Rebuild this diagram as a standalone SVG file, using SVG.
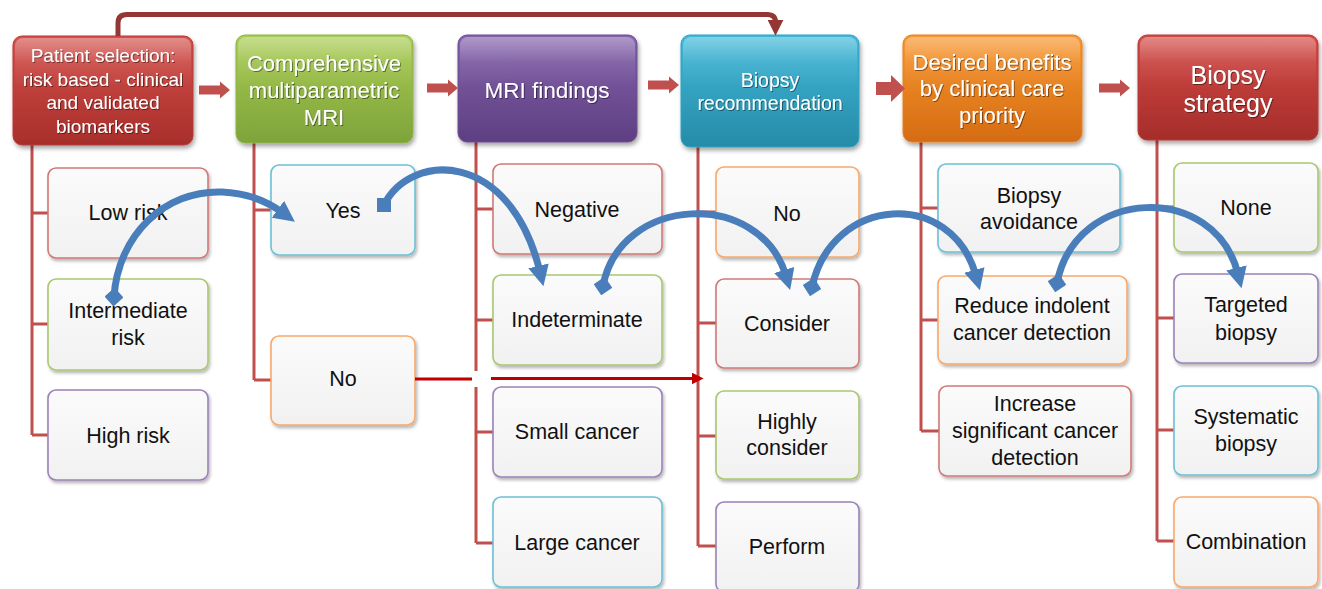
<svg xmlns="http://www.w3.org/2000/svg" width="1322" height="589" viewBox="0 0 1322 589">
<defs>
<style>
.hd{font-family:"Liberation Sans",Arial,sans-serif;fill:#fff;text-anchor:middle;filter:url(#ts)}
.ch{font-family:"Liberation Sans",Arial,sans-serif;fill:#111;text-anchor:middle;font-size:21.5px}
.cb{fill:url(#gc);stroke-width:1.6;filter:url(#sh)}
.hb{filter:url(#sh2)}
.gl{fill:url(#gloss)}
.sp{fill:none;stroke:#c0504d;stroke-width:3}
.blue{fill:none;stroke:#4a7ebb;stroke-width:7}
.har{fill:#c0504d}
</style>
<linearGradient id="gc" x1="0" y1="0" x2="0" y2="1"><stop offset="0" stop-color="#fbfbfb"/><stop offset="1" stop-color="#f1f1f1"/></linearGradient>
<linearGradient id="gloss" x1="0" y1="0" x2="0" y2="1"><stop offset="0" stop-color="#fff" stop-opacity="0.35"/><stop offset="0.5" stop-color="#fff" stop-opacity="0.08"/><stop offset="1" stop-color="#fff" stop-opacity="0"/></linearGradient>
<linearGradient id="g1" x1="0" y1="0" x2="0" y2="1"><stop offset="0" stop-color="#d4504b"/><stop offset="1" stop-color="#a82e2b"/></linearGradient>
<linearGradient id="g2" x1="0" y1="0" x2="0" y2="1"><stop offset="0" stop-color="#a9cc52"/><stop offset="1" stop-color="#7ea33a"/></linearGradient>
<linearGradient id="g3" x1="0" y1="0" x2="0" y2="1"><stop offset="0" stop-color="#8462ab"/><stop offset="1" stop-color="#5e3f82"/></linearGradient>
<linearGradient id="g4" x1="0" y1="0" x2="0" y2="1"><stop offset="0" stop-color="#3fb8d8"/><stop offset="1" stop-color="#268ba8"/></linearGradient>
<linearGradient id="g5" x1="0" y1="0" x2="0" y2="1"><stop offset="0" stop-color="#f8962e"/><stop offset="1" stop-color="#d56c13"/></linearGradient>
<linearGradient id="g6" x1="0" y1="0" x2="0" y2="1"><stop offset="0" stop-color="#d44a46"/><stop offset="1" stop-color="#a52d2a"/></linearGradient>
<filter id="sh" x="-10%" y="-10%" width="125%" height="130%"><feDropShadow dx="1.5" dy="2.5" stdDeviation="1.8" flood-color="#000" flood-opacity="0.28"/></filter>
<filter id="sh2" x="-10%" y="-10%" width="125%" height="130%"><feDropShadow dx="1.5" dy="3" stdDeviation="2.2" flood-color="#000" flood-opacity="0.35"/></filter>
<filter id="ts" x="-5%" y="-20%" width="110%" height="140%"><feDropShadow dx="1" dy="1" stdDeviation="0.6" flood-color="#000" flood-opacity="0.45"/></filter>
<marker id="ah" viewBox="0 0 10 10" markerWidth="3" markerHeight="3" refX="3" refY="5" orient="auto"><path d="M0,0 L10,5 L0,10 z" fill="#4a7ebb"/></marker>
<marker id="dm" viewBox="0 0 10 10" markerWidth="2.7" markerHeight="2.7" refX="5" refY="5" orient="auto"><path d="M5,0 L10,5 L5,10 L0,5 z" fill="#4a7ebb"/></marker>
<marker id="sq" viewBox="0 0 10 10" markerWidth="2.1" markerHeight="2.1" refX="5" refY="5" orient="0"><path d="M0,0 H10 V10 H0 z" fill="#4a7ebb"/></marker>
<marker id="rah" viewBox="0 0 10 10" markerWidth="4" markerHeight="4" refX="2" refY="5" orient="auto"><path d="M0,0 L10,5 L0,10 z" fill="#c00000"/></marker>
<marker id="dah" viewBox="0 0 10 10" markerWidth="3.2" markerHeight="3.2" refX="2" refY="5" orient="auto"><path d="M0,0 L10,5 L0,10 z" fill="#943634"/></marker>
<path id="ha" d="M0,-4.5 H21 V-8.5 L31,0 L21,8.5 V4.5 H0 Z"/>
</defs>
<rect width="1322" height="589" fill="#fff"/>

<!-- spines behind nodes -->
<g id="spines">
<path class="sp" d="M32,145 V435 M32,213 H48 M32,324 H48 M32,435 H48"/>
<path class="sp" d="M254,143 V380 M254,210 H271 M254,380 H271"/>
<path class="sp" d="M476,142 V543 M476,209 H493 M476,320 H493 M476,432 H493 M476,543 H493"/>
<path class="sp" d="M698,147 V546 M698,212 H716 M698,323 H716 M698,436 H716 M698,546 H716"/>
<path class="sp" d="M921,142 V431 M921,208 H938 M921,320 H938 M921,431 H939"/>
<path class="sp" d="M1157,140 V541 M1157,207 H1174 M1157,318 H1174 M1157,430 H1174 M1157,541 H1174"/>
</g>

<!-- header nodes -->
<g id="h1" class="hb"><rect x="13" y="36" width="180" height="109" rx="9" fill="url(#g1)" stroke="#b83a36"/><rect x="15" y="38" width="176" height="50" rx="8" class="gl"/>
<text class="hd" font-size="19" x="103"><tspan x="103" y="62">Patient selection:</tspan><tspan x="103" y="85.5">risk based - clinical</tspan><tspan x="103" y="109">and validated</tspan><tspan x="103" y="132.5">biomarkers</tspan></text></g>
<g id="h2" class="hb"><rect x="236" y="35" width="177" height="108" rx="9" fill="url(#g2)" stroke="#8db445"/><rect x="238" y="37" width="173" height="50" rx="8" class="gl"/>
<text class="hd" font-size="22" x="324"><tspan x="324" y="71">Comprehensive</tspan><tspan x="324" y="98">multiparametric</tspan><tspan x="324" y="125">MRI</tspan></text></g>
<g id="h3" class="hb"><rect x="458" y="35" width="179" height="107" rx="9" fill="url(#g3)" stroke="#6e4d93"/><rect x="460" y="37" width="175" height="50" rx="8" class="gl"/>
<text class="hd" font-size="22.5" x="547" y="98">MRI findings</text></g>
<g id="h4" class="hb"><rect x="681" y="35" width="178" height="112" rx="9" fill="url(#g4)" stroke="#2ea3c2"/><rect x="683" y="37" width="174" height="50" rx="8" class="gl"/>
<text class="hd" font-size="19.5" x="770"><tspan x="770" y="87">Biopsy</tspan><tspan x="770" y="110">recommendation</tspan></text></g>
<g id="h5" class="hb"><rect x="903" y="35" width="179" height="107" rx="9" fill="url(#g5)" stroke="#e58020"/><rect x="905" y="37" width="175" height="50" rx="8" class="gl"/>
<text class="hd" font-size="22" x="992"><tspan x="992" y="70">Desired benefits</tspan><tspan x="992" y="96">by clinical care</tspan><tspan x="992" y="123">priority</tspan></text></g>
<g id="h6" class="hb"><rect x="1138" y="35" width="180" height="105" rx="9" fill="url(#g6)" stroke="#b83a36"/><rect x="1140" y="37" width="176" height="50" rx="8" class="gl"/>
<text class="hd" font-size="25" x="1228"><tspan x="1228" y="84">Biopsy</tspan><tspan x="1228" y="112">strategy</tspan></text></g>

<!-- child nodes -->
<g id="c1a"><rect class="cb" x="48" y="168" width="160" height="90" rx="8" stroke="#d07a77"/><text class="ch" x="128" y="220">Low risk</text></g>
<g id="c1b"><rect class="cb" x="48" y="279" width="160" height="91" rx="8" stroke="#a9c870"/><text class="ch" x="128"><tspan x="128" y="317.5">Intermediate</tspan><tspan x="128" y="344.5">risk</tspan></text></g>
<g id="c1c"><rect class="cb" x="48" y="390" width="160" height="90" rx="8" stroke="#9a82b8"/><text class="ch" x="128" y="442.5">High risk</text></g>

<g id="c2a"><rect class="cb" x="271" y="165" width="144" height="90" rx="8" stroke="#6cc0d6"/><text class="ch" x="343" y="217.5">Yes</text></g>
<g id="c2b"><rect class="cb" x="271" y="336" width="144" height="89" rx="8" stroke="#f9a86a"/><text class="ch" x="343" y="385.5">No</text></g>

<g id="c3a"><rect class="cb" x="493" y="164" width="169" height="90" rx="8" stroke="#d07a77"/><text class="ch" x="577" y="216.5">Negative</text></g>
<g id="c3b"><rect class="cb" x="493" y="275" width="169" height="90" rx="8" stroke="#a9c870"/><text class="ch" x="577" y="326.5">Indeterminate</text></g>
<g id="c3c"><rect class="cb" x="493" y="387" width="169" height="90" rx="8" stroke="#9a82b8"/><text class="ch" x="577" y="438.5">Small cancer</text></g>
<g id="c3d"><rect class="cb" x="493" y="497" width="169" height="90" rx="8" stroke="#6cc0d6"/><text class="ch" x="577" y="549.5">Large cancer</text></g>

<g id="c4a"><rect class="cb" x="716" y="167" width="143" height="90" rx="8" stroke="#f9a86a"/><text class="ch" x="787" y="220.5">No</text></g>
<g id="c4b"><rect class="cb" x="716" y="279" width="143" height="89" rx="8" stroke="#d07a77"/><text class="ch" x="787" y="330.5">Consider</text></g>
<g id="c4c"><rect class="cb" x="716" y="391" width="143" height="88" rx="8" stroke="#a9c870"/><text class="ch" x="787"><tspan x="787" y="428.5">Highly</tspan><tspan x="787" y="454.5">consider</tspan></text></g>
<g id="c4d"><rect class="cb" x="716" y="502" width="143" height="90" rx="8" stroke="#9a82b8"/><text class="ch" x="787" y="553.5">Perform</text></g>

<g id="c5a"><rect class="cb" x="938" y="164" width="182" height="88" rx="8" stroke="#6cc0d6"/><text class="ch" x="1029"><tspan x="1029" y="202.5">Biopsy</tspan><tspan x="1029" y="228.5">avoidance</tspan></text></g>
<g id="c5b"><rect class="cb" x="938" y="276" width="189" height="88" rx="8" stroke="#f9a86a"/><text class="ch" x="1032"><tspan x="1032" y="312.5">Reduce indolent</tspan><tspan x="1032" y="339.5">cancer detection</tspan></text></g>
<g id="c5c"><rect class="cb" x="939" y="386" width="192" height="90" rx="8" stroke="#d07a77"/><text class="ch" x="1035"><tspan x="1035" y="410.5">Increase</tspan><tspan x="1035" y="437.5">significant cancer</tspan><tspan x="1035" y="464.5">detection</tspan></text></g>

<g id="c6a"><rect class="cb" x="1174" y="163" width="144" height="89" rx="8" stroke="#a9c870"/><text class="ch" x="1246" y="214.5">None</text></g>
<g id="c6b"><rect class="cb" x="1174" y="274" width="144" height="89" rx="8" stroke="#9a82b8"/><text class="ch" x="1246"><tspan x="1246" y="311.5">Targeted</tspan><tspan x="1246" y="339.5">biopsy</tspan></text></g>
<g id="c6c"><rect class="cb" x="1174" y="386" width="144" height="89" rx="8" stroke="#6cc0d6"/><text class="ch" x="1246"><tspan x="1246" y="423.5">Systematic</tspan><tspan x="1246" y="450.5">biopsy</tspan></text></g>
<g id="c6d"><rect class="cb" x="1174" y="497" width="144" height="90" rx="8" stroke="#f9a86a"/><text class="ch" x="1246" y="548.5">Combination</text></g>

<!-- connectors -->
<g id="connectors">
<g class="har">
<use href="#ha" x="199" y="90"/>
<use href="#ha" x="427" y="88"/>
<use href="#ha" x="648" y="85"/>
<path d="M876,82 H891 V75 L905,88.5 L891,102 V95 H876 Z"/>
<use href="#ha" x="1099" y="88"/>
</g>
<path d="M118,36 V23 Q118,14.5 127,14.5 H767 Q775.5,14.5 775.5,22 V23" fill="none" stroke="#943634" stroke-width="5" marker-end="url(#dah)"/>
<rect x="470" y="371" width="12" height="16" fill="#fff"/>
<path d="M415,379 H472" fill="none" stroke="#c00000" stroke-width="3"/>
<path d="M491,378.5 H694" fill="none" stroke="#c00000" stroke-width="3" marker-end="url(#rah)"/>
<path class="blue" d="M114,297 C118,235 165,190 222,192 C250,193 268,202 283,213" marker-start="url(#dm)" marker-end="url(#ah)"/>
<path class="blue" d="M384,205 C410,152 510,148 540,272" marker-start="url(#sq)" marker-end="url(#ah)"/>
<path class="blue" d="M603,286 C620,195 760,188 786,276" marker-start="url(#dm)" marker-end="url(#ah)"/>
<path class="blue" d="M812,287 C832,195 952,188 976,276" marker-start="url(#dm)" marker-end="url(#ah)"/>
<path class="blue" d="M1057,283 C1076,186 1215,182 1238,274" marker-start="url(#dm)" marker-end="url(#ah)"/>
</g>
</svg>
